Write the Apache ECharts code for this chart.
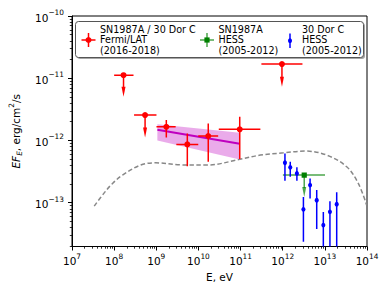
<!DOCTYPE html>
<html><head><meta charset="utf-8">
<script src="https://cdn.jsdelivr.net/npm/echarts@6/dist/echarts.min.js"></script>
<style>html,body{margin:0;padding:0;background:#fff}#c{width:390px;height:293px}</style>
</head><body><div id="c"></div>
<script>
// ---- Fermi/LAT (SN1987A / 30 Dor C), E in eV, E*F_E in erg/cm2/s ----
const fermiE   = [1.67e8, 5.42e8, 1.73e9, 5.45e9, 1.71e10, 9.55e10, 9.59e11];
const fermiElo = [1.00e8, 2.97e8, 1.01e9, 2.99e9, 9.91e9, 3.04e10, 3.12e11];
const fermiEhi = [2.88e8, 1.01e9, 2.88e9, 9.91e9, 2.94e10, 2.95e11, 2.94e12];
const fermiF   = [1.12e-11, 2.56e-12, 1.66e-12, 8.65e-13, 1.18e-12, 1.51e-12, 1.69e-11];
const fermiFlo = [5.05e-12, 1.12e-12, 1.12e-12, 3.87e-13, 4.55e-13, 5.02e-13, 7.30e-12];
const fermiFhi = [1.12e-11, 2.56e-12, 2.13e-12, 1.30e-12, 1.88e-12, 2.40e-12, 1.69e-11];
const fermiUL  = [1, 1, 0, 0, 0, 0, 1];

// ---- HESS SN1987A upper limit ----
const snE   = [3.24e12];
const snElo = [1.01e12];
const snEhi = [1.01e13];
const snF   = [2.78e-13];
const snFlo = [1.24e-13];
const snUL  = [1];

// ---- HESS 30 Dor C ----
const dorE   = [1.13e12, 1.51e12, 2.17e12, 3.10e12, 4.46e12, 6.41e12, 9.20e12, 1.32e13, 1.91e13];
const dorF   = [4.39e-13, 3.70e-13, 2.96e-13, 7.82e-14, 1.92e-13, 1.10e-13, 4.37e-14, 7.14e-14, 9.48e-14];
const dorFhi = [6.19e-13, 4.57e-13, 3.70e-13, 1.24e-13, 2.46e-13, 1.60e-13, 7.08e-14, 1.06e-13, 1.47e-13];
const dorFlo = [2.25e-13, 2.61e-13, 2.25e-13, 2.36e-14, 1.17e-13, 3.77e-14, 1.0e-14, 1.0e-14, 1.0e-14];

// ---- Power-law fit and its band ----
const fitE   = [1.06e9, 9.55e10];
const fitF   = [1.49e-12, 8.85e-13];
const fitFup = [1.82e-12, 1.33e-12];
const fitFlo = [1.00e-12, 4.97e-13];

// ---- Model curve (dashed) ----
const modelE = [3.37e7, 5.81e7, 9.16e7, 1.58e8, 4.29e8, 9.68e8, 3.78e9, 1.62e10, 9.55e10, 2.94e11, 1.05e12, 3.41e12, 1.11e13, 3.30e13, 6.22e13, 9.82e13];
const modelF = [8.81e-14, 1.44e-13, 2.04e-13, 2.78e-13, 4.03e-13, 4.38e-13, 4.06e-13, 4.03e-13, 4.97e-13, 5.82e-13, 6.34e-13, 6.76e-13, 5.82e-13, 3.78e-13, 2.04e-13, 9.14e-14];

// ---- Axes ----
const xMajor = [7, 8, 9, 10, 11, 12, 13, 14];       // exponents of E
const yMajor = [-13, -12, -11, -10];                 // exponents of flux
const xRange = [1e7, 1e14];
const yRange = [1.98e-14, 1e-10];

const L = Math.log10;
const FONT = 'DejaVu Sans';
const minorOf = (lo, hi) => { const out = []; for (let n = lo; n < hi; n++) for (let k = 2; k <= 9; k++) out.push(n + L(k)); return out; };
const xMinor = minorOf(7, 14);
const yMinor = minorOf(-14, -10).filter(v => v > L(yRange[0]));

const chart = echarts.init(document.getElementById('c'), null, {renderer: 'svg'});

function errSeries(name, color, barColor, marker, E, Elo, Ehi, F, Flo, Fhi, UL) {
  const data = E.map((e, i) => [L(e), L(F[i]), Elo ? L(Elo[i]) : L(e), Ehi ? L(Ehi[i]) : L(e), L(Flo[i]), Fhi ? L(Fhi[i]) : L(F[i]), UL ? UL[i] : 0]);
  return {
    type: 'custom', name: name, clip: true, z: 5,
    data: data,
    encode: {x: [0, 2, 3], y: [1, 4, 5]},
    renderItem: function (params, api) {
      const p = api.coord([api.value(0), api.value(1)]);
      const xl = api.coord([api.value(2), api.value(1)])[0];
      const xh = api.coord([api.value(3), api.value(1)])[0];
      const yl = api.coord([api.value(0), api.value(4)])[1];
      const yh = api.coord([api.value(0), api.value(5)])[1];
      const ul = api.value(6);
      const ch = [];
      const lw = 1.5;
      if (xh - xl > 0.5) ch.push({type: 'line', shape: {x1: xl, y1: p[1], x2: xh, y2: p[1]}, style: {stroke: barColor, lineWidth: lw}});
      if (ul) {
        const head = 10;
        ch.push({type: 'line', shape: {x1: p[0], y1: p[1], x2: p[0], y2: yl - head + 1}, style: {stroke: barColor, lineWidth: lw}});
        ch.push({type: 'polygon', shape: {points: [[p[0] - 2, yl - head], [p[0] + 2, yl - head], [p[0], yl]]}, style: {fill: barColor}});
      } else {
        ch.push({type: 'line', shape: {x1: p[0], y1: yh, x2: p[0], y2: yl}, style: {stroke: barColor, lineWidth: lw}});
      }
      if (marker === 'circle') ch.push({type: 'circle', shape: {cx: p[0], cy: p[1], r: 3}, style: {fill: color}});
      else if (marker === 'small') ch.push({type: 'ellipse', shape: {cx: p[0], cy: p[1], rx: 2, ry: 2.4}, style: {fill: color}});
      else ch.push({type: 'rect', shape: {x: p[0] - 2.6, y: p[1] - 2.6, width: 5.2, height: 5.2}, style: {fill: color}});
      return {type: 'group', children: ch};
    }
  };
}

const supLabel = (txt) => '{b|10}{s|' + txt + '}';
const richTick = {
  b: {fontFamily: FONT, fontSize: 10.5, color: '#000', lineHeight: 14, verticalAlign: 'bottom'},
  s: {fontFamily: FONT, fontSize: 7.4, color: '#000', lineHeight: 8, verticalAlign: 'top'}
};

const grid = {left: 71, right: 23, top: 16, bottom: 46.5, show: true, borderColor: '#000', borderWidth: 1, backgroundColor: 'transparent'};
const LEG_FONT = '9.6px "DejaVu Sans"';

const option = {
  animation: false,
  backgroundColor: '#fff',
  grid: grid,
  xAxis: [{
    type: 'value', min: L(xRange[0]), max: L(xRange[1]), interval: 1, position: 'bottom',
    axisLine: {show: true, onZero: false, lineStyle: {color: '#000', width: 1}},
    axisTick: {show: true, inside: false, length: 4, customValues: xMajor, lineStyle: {color: '#000', width: 1}},
    axisLabel: {show: true, margin: 6, customValues: xMajor, formatter: v => supLabel(String(Math.round(v))), rich: richTick},
    splitLine: {show: false},
    name: 'E, eV', nameLocation: 'middle', nameGap: 24,
    nameTextStyle: {fontFamily: FONT, fontSize: 10.5, color: '#000'}
  }, {
    type: 'value', min: L(xRange[0]), max: L(xRange[1]), position: 'bottom',
    axisLine: {show: false}, axisLabel: {show: false}, splitLine: {show: false},
    axisTick: {show: true, inside: false, length: 2.2, customValues: xMinor, lineStyle: {color: '#000', width: 0.8}}
  }],
  yAxis: [{
    type: 'value', min: L(yRange[0]), max: L(yRange[1]), position: 'left',
    axisLine: {show: true, onZero: false, lineStyle: {color: '#000', width: 1}},
    axisTick: {show: true, inside: false, length: 4, customValues: yMajor, lineStyle: {color: '#000', width: 1}},
    axisLabel: {show: true, margin: 8, customValues: yMajor, formatter: v => supLabel('\u2212' + Math.abs(Math.round(v))), rich: richTick},
    splitLine: {show: false},
    name: '{i|EF}{sub|E}{n|, erg/cm}{sup|2}{n|/s}', nameLocation: 'middle', nameGap: 49, nameRotate: 90,
    nameTextStyle: {
      rich: {
        i: {fontFamily: FONT, fontStyle: 'italic', fontSize: 10.5, color: '#000', lineHeight: 15},
        sub: {fontFamily: FONT, fontStyle: 'italic', fontSize: 7.4, color: '#000', lineHeight: 8, verticalAlign: 'bottom'},
        n: {fontFamily: FONT, fontSize: 10.5, color: '#000', lineHeight: 15},
        sup: {fontFamily: FONT, fontSize: 7.4, color: '#000', lineHeight: 8, verticalAlign: 'top'}
      }
    }
  }, {
    type: 'value', min: L(yRange[0]), max: L(yRange[1]), position: 'left',
    axisLine: {show: false}, axisLabel: {show: false}, splitLine: {show: false},
    axisTick: {show: true, inside: false, length: 2.2, customValues: yMinor, lineStyle: {color: '#000', width: 0.8}}
  }],
  series: [
    {
      type: 'line', name: 'model', data: modelE.map((e, i) => [L(e), L(modelF[i])]),
      smooth: 0.35, showSymbol: false, symbol: 'none', z: 2,
      lineStyle: {color: '#888888', width: 1.5, type: [4.5, 2.5]}
    },
    {
      type: 'custom', name: 'band', z: 3, clip: true,
      data: [[L(fitE[0]), L(fitF[0])]],
      renderItem: function (params, api) {
        const pts = [
          api.coord([L(fitE[0]), L(fitFup[0])]),
          api.coord([L(fitE[1]), L(fitFup[1])]),
          api.coord([L(fitE[1]), L(fitFlo[1])]),
          api.coord([L(fitE[0]), L(fitFlo[0])])
        ];
        return {type: 'polygon', shape: {points: pts}, style: {fill: 'rgba(191,0,191,0.33)'}};
      }
    },
    {
      type: 'line', name: 'fit', data: fitE.map((e, i) => [L(e), L(fitF[i])]),
      showSymbol: false, symbol: 'none', z: 4,
      lineStyle: {color: '#bf00bf', width: 2}
    },
    errSeries('Fermi', '#ff0000', '#ff0000', 'circle', fermiE, fermiElo, fermiEhi, fermiF, fermiFlo, fermiFhi, fermiUL),
    errSeries('SN HESS', '#008000', 'rgba(0,128,0,0.7)', 'square', snE, snElo, snEhi, snF, snFlo, null, snUL),
    errSeries('30DorC HESS', '#0000ff', '#0000ff', 'small', dorE, null, null, dorF, dorFlo, dorFhi, null)
  ],
  graphic: [
    {type: 'rect', z: 50, shape: {x: 77, y: 23, width: 288, height: 36, r: 3}, style: {fill: 'rgba(0,0,0,0.35)'}},
    {type: 'rect', z: 51, shape: {x: 75.5, y: 21.5, width: 288, height: 36, r: 3}, style: {fill: '#fff', stroke: '#555', lineWidth: 1}},
    // legend entry 1
    {type: 'line', z: 52, shape: {x1: 81.5, y1: 40, x2: 95.5, y2: 40}, style: {stroke: '#ff0000', lineWidth: 1.5}},
    {type: 'line', z: 52, shape: {x1: 88.5, y1: 33, x2: 88.5, y2: 47}, style: {stroke: '#ff0000', lineWidth: 1.5}},
    {type: 'circle', z: 53, shape: {cx: 88.5, cy: 40, r: 3}, style: {fill: '#ff0000'}},
    {type: 'text', z: 53, style: {x: 100, y: 39.6, text: 'SN1987A / 30 Dor C\nFermi/LAT\n(2016-2018)', font: LEG_FONT, lineHeight: 10.5, fill: '#000', verticalAlign: 'middle', align: 'left'}},
    // legend entry 2
    {type: 'line', z: 52, shape: {x1: 200, y1: 40, x2: 214, y2: 40}, style: {stroke: 'rgba(0,128,0,0.7)', lineWidth: 1.5}},
    {type: 'line', z: 52, shape: {x1: 207, y1: 33, x2: 207, y2: 47}, style: {stroke: 'rgba(0,128,0,0.7)', lineWidth: 1.5}},
    {type: 'rect', z: 53, shape: {x: 204.4, y: 37.4, width: 5.2, height: 5.2}, style: {fill: '#008000'}},
    {type: 'text', z: 53, style: {x: 218.5, y: 39.6, text: 'SN1987A\nHESS\n(2005-2012)', font: LEG_FONT, lineHeight: 10.5, fill: '#000', verticalAlign: 'middle', align: 'left'}},
    // legend entry 3
    {type: 'line', z: 52, shape: {x1: 290, y1: 33.5, x2: 290, y2: 48}, style: {stroke: '#0000ff', lineWidth: 1.5}},
    {type: 'ellipse', z: 53, shape: {cx: 290, cy: 40.7, rx: 2, ry: 2.4}, style: {fill: '#0000ff'}},
    {type: 'text', z: 53, style: {x: 302, y: 39.6, text: '30 Dor C\nHESS\n(2005-2012)', font: LEG_FONT, lineHeight: 10.5, fill: '#000', verticalAlign: 'middle', align: 'left'}}
  ]
};
chart.setOption(option);
</script>
</body></html>
